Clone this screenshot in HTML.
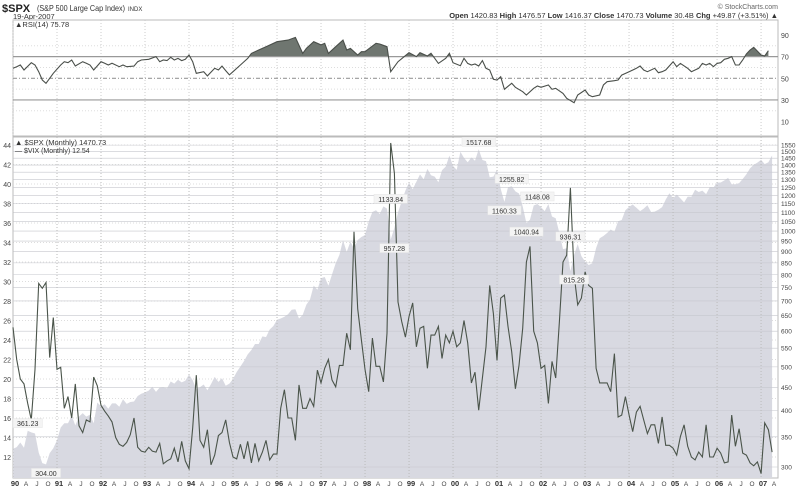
<!DOCTYPE html>
<html><head><meta charset="utf-8">
<style>
html,body{margin:0;padding:0;background:#fff;}
body{width:800px;height:488px;overflow:hidden;font-family:"Liberation Sans",sans-serif;}
svg text{font-family:"Liberation Sans",sans-serif;}
</style></head>
<body>
<svg id="chart" width="800" height="488" viewBox="0 0 800 488" xmlns="http://www.w3.org/2000/svg">
  <defs>
    <clipPath id="above70"><rect x="13" y="20" width="765" height="36.64"/></clipPath>
  </defs>
  <g>
    <text x="2" y="12" font-size="11" font-weight="bold" fill="#222">$SPX</text>
    <text x="37" y="11" font-size="8" fill="#333" textLength="88" lengthAdjust="spacingAndGlyphs">(S&amp;P 500 Large Cap Index)</text>
    <text x="128" y="11" font-size="6" fill="#333">INDX</text>
    <text x="13" y="19" font-size="7.5" fill="#333">19-Apr-2007</text>
    <text x="778" y="9" font-size="7" fill="#666" text-anchor="end">© StockCharts.com</text>
    <text x="778" y="18" font-size="7.5" fill="#333" text-anchor="end"><tspan font-weight="bold">Open</tspan> 1420.83 <tspan font-weight="bold">High</tspan> 1476.57 <tspan font-weight="bold">Low</tspan> 1416.37 <tspan font-weight="bold">Close</tspan> 1470.73 <tspan font-weight="bold">Volume</tspan> 30.4B <tspan font-weight="bold">Chg</tspan> +49.87 (+3.51%) ▲</text>
  </g>
  <g id="rsiPanel"></g>
  <g id="mainPanel"></g>
  <g id="xAxis"></g>
</svg>
<script>
// ---- data ----
const spxClose = [
329,332,340,331,361,358,356,323,306,304,322,330,
344,367,375,375,390,371,388,395,388,392,375,417,
409,413,404,415,415,408,424,414,418,419,431,436,
439,443,452,440,450,451,448,464,459,468,462,466,
481,467,446,451,457,444,458,475,463,472,454,459,
470,487,501,515,533,545,562,562,584,582,605,616,
636,640,646,654,669,671,640,652,687,705,757,741,
786,791,757,801,848,885,954,899,947,915,955,970,
980,1049,1102,1112,1091,1134,1121,957,1017,1099,1164,1229,
1280,1238,1286,1335,1302,1373,1329,1320,1283,1363,1389,1469,
1394,1366,1499,1452,1421,1455,1431,1518,1437,1429,1315,1320,
1366,1240,1160,1249,1256,1224,1211,1134,1041,1060,1139,1148,
1130,1107,1147,1077,1067,990,912,916,815,886,936,880,
856,841,848,917,964,975,990,1008,996,1051,1058,1112,
1131,1145,1126,1107,1121,1141,1102,1104,1115,1130,1174,1212,
1181,1204,1181,1157,1192,1191,1234,1220,1229,1207,1249,1248,
1280,1281,1295,1311,1270,1270,1277,1304,1336,1378,1401,1418,
1438,1407,1421,1471];
const vixClose = [
25.3,22,20,19.5,17.5,15.8,21,29.8,29.3,29.9,22.2,26.3,
21,21.2,17,18.2,16,19.5,15.2,14.5,15.8,15.6,20.2,19.3,
17.3,16.7,16.2,15.6,14,13.3,13.1,13.5,14.3,16,13,12.6,
12.5,13,12.6,12.5,13.4,11.3,11.6,11.8,12.9,11.5,13.6,11.6,
10.8,15,20.4,13.7,13,14.8,11.2,12.2,14.2,14.5,15.8,13.5,
12,11.8,13.3,11.8,13.6,11.4,13.4,11.6,12.5,13.7,11.7,12.3,
12.3,17,18.9,16,16,13.7,19.4,17,17,18,17.2,20.9,
19.6,21.1,22,19.9,19.2,21.4,21.4,24.7,23,35.1,27.2,24,
21,18.7,24.2,21.3,21.3,19.7,24.7,44.2,41.1,27.9,25.9,24.3,
26.4,27.8,23.3,25.2,25.4,21.1,24.5,24.5,25.4,22.1,24.5,23.7,
24.9,23.3,23.7,26,23.7,19.6,20.7,16.8,20.1,23.3,29.6,26.7,
21.9,28.3,28.6,25.4,22.8,19,21.4,25.2,32,33.6,24.9,23.7,
21.1,21.4,17.5,21.8,20.1,25.9,32,32.7,39.6,30.7,27.6,28.3,
31,29.6,29.3,21.1,19.6,19.6,19.6,18.7,22.6,16.1,16.3,18.2,
16.3,14.6,16.6,17.2,15.8,14.4,15.3,15.3,13.4,16.1,13.2,13.2,
12.9,12.2,14.1,15.3,13.1,12,11.7,12.5,12,15.3,12,12,
12.9,12.4,11.4,11.5,16.3,13.1,14.9,12.4,12.2,11.4,11.1,11.5,
10.3,15.5,14.8,12.5];
const rsiMonths = [0,1,2,3,5,6,7,8,9,10,11,13,14,15,16,17,19,20,21,22,24,25,26,27,29,30,31,33,34,35,37,39,40,41,42,43,44,45,46,47,48,49,50,52,53,55,56,57,58,59,60,62,64,65,67,69,72,75,77,79,80,82,84,85,86,88,90,91,92,94,95,96,99,100,102,103,
105,108,110,111,113,114,115,116,118,119,120,122,123,124,125,126,127,128,129,130,131,132,133,134,136,137,139,140,142,143,144,146,147,148,150,151,153,154,156,157,158,160,161,162,164,165,166,168,170,171,172,173,175,176,177,178,180,181,182,184,185,187,188,189,190,191,192,193,194,195,196,197,198,199,200,201,202,204,205,206,207];
const rsiValues = [59.2,60.7,62.3,57.7,64.4,62.3,56.1,48.4,45.4,50,54.6,62.3,65.3,64.4,66.9,61.4,65.3,63.9,62.3,57.7,65.3,63.9,62.3,63.9,60.7,62.3,60.7,61.3,65.3,66.9,67.5,70,65.3,66.9,66.3,69.4,66.9,68.4,66.3,67.5,71.5,65.3,54.6,56.1,52.2,59.2,57.7,61.3,57.1,53.1,56.1,62.3,68.4,73,76.1,79.2,83.8,85.3,87.8,73,77.6,83.8,80.8,82.3,73,79.2,85.3,76.1,77.6,71.5,74.6,74.6,82.3,81.7,79.2,56.1,
65.3,73.6,70,73.6,70.6,73.1,68.5,63.8,68.5,73.1,64.4,61.6,68.5,63.8,62.3,63.2,61.4,66.3,59.2,57.7,49.1,48.4,51.5,39.8,45.4,41.7,37.6,34.6,40.8,42.9,41.7,43.8,39.8,40.8,36.1,31.5,27.5,34.6,39.2,34.6,33,34.6,43.8,46.9,47.8,48.4,53,56.1,59.2,61.4,57.7,56.1,59.2,55.2,56.1,57.7,65.3,60.7,63.8,59.2,56.1,59.2,63.8,62.3,63.8,60.7,63.8,64.4,67.5,68.5,70,62.3,62.3,66.9,72.4,76.1,78.6,71.5,70.6,75.5];
const vixTicks = [12,14,16,18,20,22,24,26,28,30,32,34,36,38,40,42,44];
const spxTicks = [300,350,400,450,500,550,600,650,700,750,800,850,900,950,1000,1050,1100,1150,1200,1250,1300,1350,1400,1450,1500,1550];
const rsiTicks = [10,30,50,70,90];
const yearLabels = ["90","91","92","93","94","95","96","97","98","99","00","01","02","03","04","05","06","07"];
const monthLabels = ["A","J","O"];
const annotMonths = [4,9,103,104,127,136,134,140,143,152,153];
const annotValues = [361.23,304.00,1133.84,957.28,1517.68,1255.82,1160.33,1040.94,1148.08,936.31,815.28];

// ---- axes ----
const L=13,R=778;
const xM = i => L + i*3.667;
const yVix = v => 457 - (v-12)*9.75;
const ySpx = v => 467 - 196*Math.log(v/300);
const yRsi = v => 78.3 - (v-50)*1.083;
const NS="http://www.w3.org/2000/svg";
function mk(tag, attrs, parent){const e=document.createElementNS(NS,tag);for(const k in attrs)e.setAttribute(k,attrs[k]);parent.appendChild(e);return e;}

// ---- RSI panel ----
const rp=document.getElementById('rsiPanel');
let e=mk('rect',{x:L,y:20,width:R-L,height:116,fill:'#fff',stroke:'#bbb','stroke-width':1},rp);


[20,40,60,80].forEach(v=>{const g=mk('line',{x1:L,x2:R,y1:yRsi(v),y2:yRsi(v),stroke:'#ddd','stroke-dasharray':'1,2'},rp);

});
for(let k=0;k<18;k++){const g=mk('line',{x1:xM(k*12),x2:xM(k*12),y1:20,y2:136,stroke:'#ccc','stroke-dasharray':'1,2'},rp);

}
const n=Math.min(rsiMonths.length,rsiValues.length);
const rsiPts=[];
for(let j=0;j<n;j++) rsiPts.push(xM(rsiMonths[j]).toFixed(1)+','+yRsi(rsiValues[j]).toFixed(1));
const baseY=yRsi(70).toFixed(1);
e=mk('polygon',{points:xM(rsiMonths[0]).toFixed(1)+','+baseY+' '+rsiPts.join(' ')+' '+xM(rsiMonths[n-1]).toFixed(1)+','+baseY,fill:'#6f7670','clip-path':'url(#above70)'},rp);


[[70,'#999',''],[30,'#999',''],[50,'#999','4,2,1,2']].forEach(([v,c,d])=>{const g=mk('line',{x1:L,x2:R,y1:yRsi(v),y2:yRsi(v),stroke:c,'stroke-width':1.2,'stroke-dasharray':d},rp);

});
e=mk('polyline',{points:rsiPts.join(' '),fill:'none',stroke:'#4a4f4a','stroke-width':1.1},rp);


rsiTicks.forEach(v=>{const t=mk('text',{x:781,y:yRsi(v)+3,'font-size':7,fill:'#444'},rp);t.textContent=v;

});
e=mk('text',{x:15,y:27,'font-size':7.5,fill:'#333','font-family':'Liberation Mono, monospace'},rp);e.textContent='▲RSI(14) 75.78';



// ---- main panel ----
const mp=document.getElementById('mainPanel');
e=mk('rect',{x:L,y:137,width:R-L,height:341,fill:'#fff',stroke:'#bbb','stroke-width':1},mp);


vixTicks.forEach(v=>{const g=mk('line',{x1:L,x2:R,y1:yVix(v),y2:yVix(v),stroke:'#ddd','stroke-dasharray':'1,2'},mp);

});
let ap='M'+xM(0)+',478';
spxClose.forEach((v,i)=>{ap+=' L'+xM(i).toFixed(1)+','+ySpx(v).toFixed(1);});
ap+=' L'+xM(spxClose.length-1).toFixed(1)+',478 Z';
e=mk('path',{d:ap,fill:'#d8d9e1'},mp);


spxTicks.forEach(v=>{const g=mk('line',{x1:L,x2:R,y1:ySpx(v),y2:ySpx(v),stroke:'#c6c7ce','stroke-width':0.6},mp);

});
for(let k=0;k<18;k++){const g=mk('line',{x1:xM(k*12),x2:xM(k*12),y1:137,y2:478,stroke:'#bbb','stroke-dasharray':'1,2'},mp);

}
e=mk('polyline',{points:vixClose.map((v,i)=>xM(i).toFixed(1)+','+yVix(v).toFixed(1)).join(' '),fill:'none',stroke:'#4a544a','stroke-width':1.1},mp);


vixTicks.forEach(v=>{const t=mk('text',{x:11,y:yVix(v)+3,'font-size':7,fill:'#444','text-anchor':'end'},mp);t.textContent=v;

});
spxTicks.forEach(v=>{const t=mk('text',{x:781,y:ySpx(v)+2.5,'font-size':6.5,fill:'#444'},mp);t.textContent=v;

});
annotMonths.forEach((m,j)=>{
  const v=annotValues[j];const lbl=v.toFixed(2);
  const below=(j===1||j===3||j===6||j===7||j===10);
  const w=lbl.length*4.2+4;
  const yy=below?ySpx(v)+9:ySpx(v)-7;
  const b=mk('rect',{x:xM(m)-w/2,y:yy-5,width:w,height:9,fill:'#f4f4f4',stroke:'#e4e4e4','stroke-width':0.5},mp);
  
  
  const t=mk('text',{x:xM(m),y:yy+2.5,'font-size':7,fill:'#333','text-anchor':'middle'},mp);t.textContent=lbl;
  
  
});
e=mk('text',{x:15,y:145,'font-size':7.5,fill:'#333','font-family':'Liberation Mono, monospace'},mp);e.textContent='▲ $SPX (Monthly) 1470.73';


e=mk('text',{x:15,y:153,'font-size':7,fill:'#333'},mp);e.textContent='— $VIX (Monthly) 12.54';



// ---- x axis ----
const xa=document.getElementById('xAxis');
yearLabels.forEach((y,k)=>{
  const t=mk('text',{x:xM(k*12)+2,y:486,'font-size':7.5,'font-weight':'bold',fill:'#333','text-anchor':'middle'},xa);t.textContent=y;
  
  
  monthLabels.forEach((ml,q)=>{const mi=k*12+3*(q+1);if(mi>207)return;
    const u=mk('text',{x:xM(mi)+2,y:486,'font-size':6.5,fill:'#444','text-anchor':'middle'},xa);u.textContent=ml;
    
    });
});
</script>
</body></html>
